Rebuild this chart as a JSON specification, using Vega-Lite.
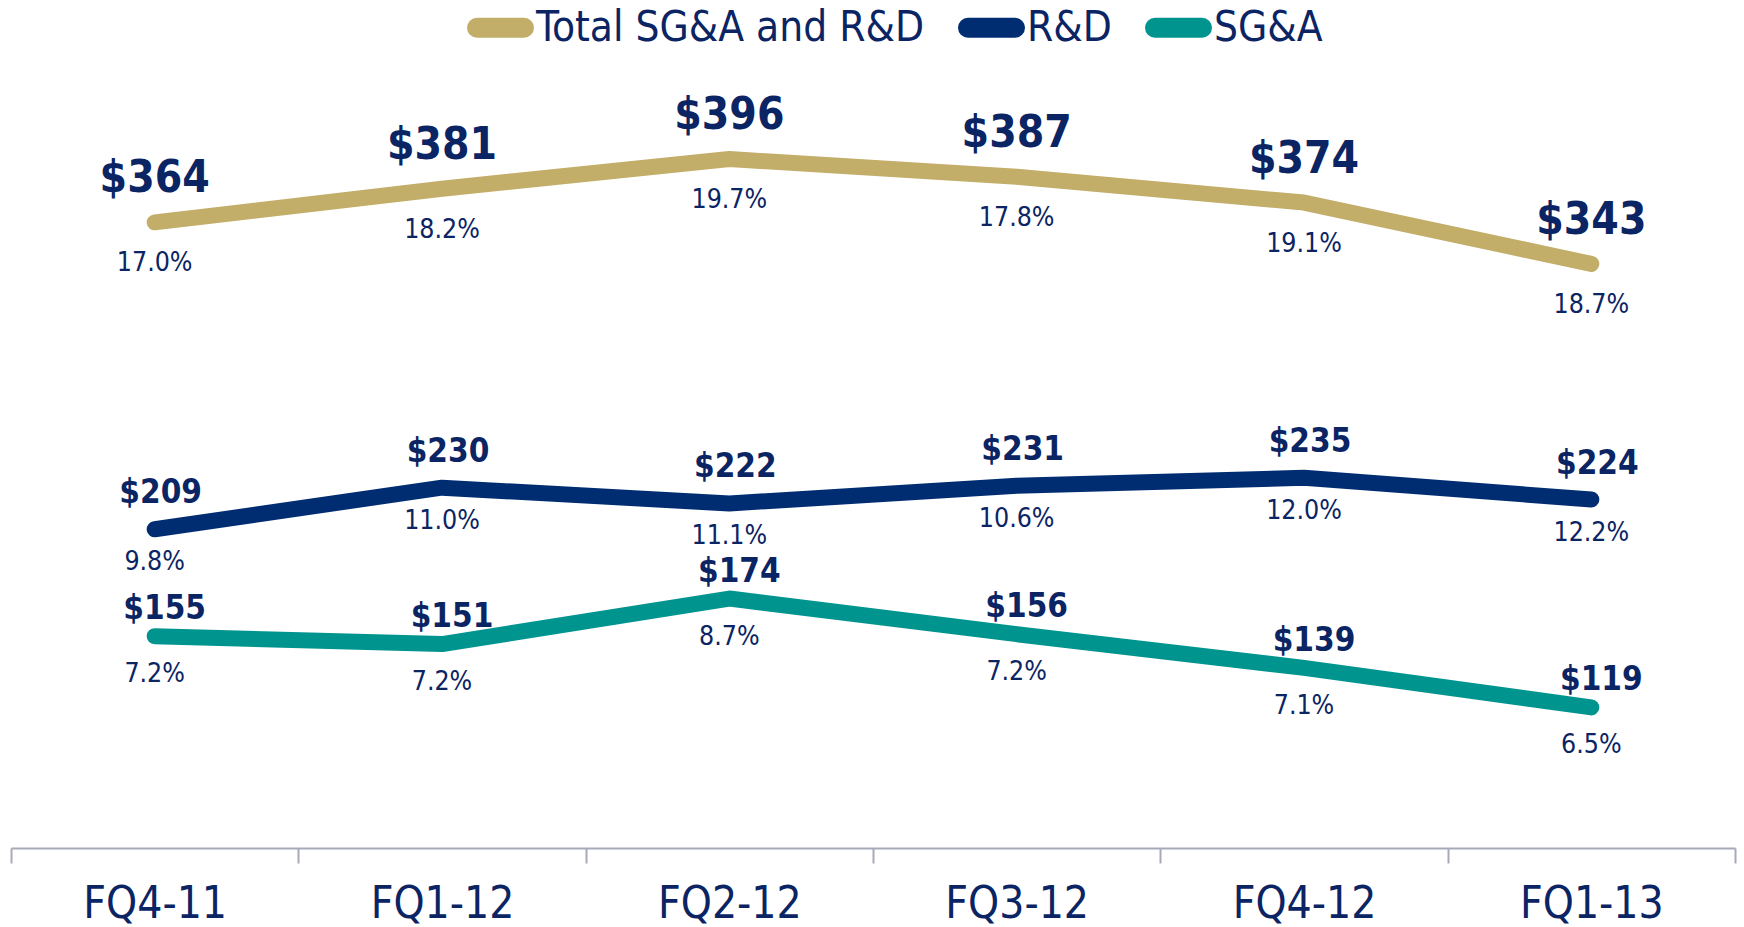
{
  "$schema": "https://vega.github.io/schema/vega-lite/v6.json",
  "width": 1724,
  "height": 788,
  "autosize": {"type": "none"},
  "padding": {"left": 11, "top": 60, "right": 9, "bottom": 79},
  "background": "white",
  "config": {"view": {"stroke": null}},
  "data": {"values": [
    {"quarter": "FQ4-11", "series": "Total SG&A and R&D", "value": 364, "pct": 0.170},
    {"quarter": "FQ1-12", "series": "Total SG&A and R&D", "value": 381, "pct": 0.182},
    {"quarter": "FQ2-12", "series": "Total SG&A and R&D", "value": 396, "pct": 0.197},
    {"quarter": "FQ3-12", "series": "Total SG&A and R&D", "value": 387, "pct": 0.178},
    {"quarter": "FQ4-12", "series": "Total SG&A and R&D", "value": 374, "pct": 0.191},
    {"quarter": "FQ1-13", "series": "Total SG&A and R&D", "value": 343, "pct": 0.187},
    {"quarter": "FQ4-11", "series": "R&D", "value": 209, "pct": 0.098},
    {"quarter": "FQ1-12", "series": "R&D", "value": 230, "pct": 0.110},
    {"quarter": "FQ2-12", "series": "R&D", "value": 222, "pct": 0.111},
    {"quarter": "FQ3-12", "series": "R&D", "value": 231, "pct": 0.106},
    {"quarter": "FQ4-12", "series": "R&D", "value": 235, "pct": 0.120},
    {"quarter": "FQ1-13", "series": "R&D", "value": 224, "pct": 0.122},
    {"quarter": "FQ4-11", "series": "SG&A", "value": 155, "pct": 0.072},
    {"quarter": "FQ1-12", "series": "SG&A", "value": 151, "pct": 0.072},
    {"quarter": "FQ2-12", "series": "SG&A", "value": 174, "pct": 0.087},
    {"quarter": "FQ3-12", "series": "SG&A", "value": 156, "pct": 0.072},
    {"quarter": "FQ4-12", "series": "SG&A", "value": 139, "pct": 0.071},
    {"quarter": "FQ1-13", "series": "SG&A", "value": 119, "pct": 0.065}
  ]},
  "encoding": {
    "x": {
      "field": "quarter", "type": "nominal", "sort": null,
      "scale": {"type": "band", "paddingInner": 0, "paddingOuter": 0},
      "axis": {
        "title": null, "orient": "bottom", "labelAngle": 0,
        "tickBand": "extent", "tickSize": 15, "tickColor": "#A6A9B8", "tickWidth": 2,
        "domainColor": "#A6A9B8", "domainWidth": 2,
        "labelFont": "DejaVu Sans Condensed",
        "labelFontSize": 44, "labelColor": "#0B2463", "labelBaseline": "alphabetic",
        "labelPadding": 54, "grid": false, "labelLimit": 0
      }
    },
    "y": {
      "field": "value", "type": "quantitative",
      "scale": {"domain": [48, 446], "nice": false, "zero": false},
      "axis": null
    }
  },
  "layer": [
    {
      "mark": {"type": "line", "strokeWidth": 16, "strokeCap": "round", "strokeJoin": "round"},
      "encoding": {
        "color": {
          "field": "series", "type": "nominal",
          "scale": {"domain": ["Total SG&A and R&D", "R&D", "SG&A"], "range": ["#C2AD69", "#002D72", "#00948F"]},
          "legend": {
            "orient": "none", "direction": "horizontal", "title": null,
            "legendX": 456, "legendY": -66,
            "symbolType": "stroke", "symbolSize": 2209, "symbolStrokeWidth": 20,
            "labelFont": "DejaVu Sans Condensed",
            "labelFontSize": 42, "labelColor": "#0B2463", "labelLimit": 0,
            "labelOffset": 2, "columnPadding": 3,
            "encode": {"symbols": {"update": {"strokeCap": {"value": "round"}}}}
          }
        }
      }
    },
    {
      "transform": [{"filter": "datum.series === 'Total SG&A and R&D'"}],
      "mark": {"type": "text", "dy": -43, "fontSize": 44, "fontWeight": "bold", "font": "DejaVu Sans Condensed", "color": "#0B2463", "baseline": "middle"},
      "encoding": {"text": {"field": "value", "type": "quantitative", "format": "$.0f"}}
    },
    {
      "transform": [{"filter": "datum.series === 'R&D'"}],
      "mark": {"type": "text", "dy": -36, "dx": 6, "fontSize": 33, "fontWeight": "bold", "font": "DejaVu Sans Condensed", "color": "#0B2463", "baseline": "middle"},
      "encoding": {"text": {"field": "value", "type": "quantitative", "format": "$.0f"}}
    },
    {
      "transform": [{"filter": "datum.series === 'SG&A'"}],
      "mark": {"type": "text", "dy": -27, "dx": 10, "fontSize": 33, "fontWeight": "bold", "font": "DejaVu Sans Condensed", "color": "#0B2463", "baseline": "middle"},
      "encoding": {"text": {"field": "value", "type": "quantitative", "format": "$.0f"}}
    },
    {
      "transform": [{"filter": "datum.series === 'Total SG&A and R&D'"}],
      "mark": {"type": "text", "dy": 41, "fontSize": 26.5, "font": "DejaVu Sans Condensed", "color": "#0B2463", "baseline": "middle"},
      "encoding": {"text": {"field": "pct", "type": "quantitative", "format": ".1%"}}
    },
    {
      "transform": [{"filter": "datum.series === 'R&D'"}],
      "mark": {"type": "text", "dy": 33, "fontSize": 26.5, "font": "DejaVu Sans Condensed", "color": "#0B2463", "baseline": "middle"},
      "encoding": {"text": {"field": "pct", "type": "quantitative", "format": ".1%"}}
    },
    {
      "transform": [{"filter": "datum.series === 'SG&A'"}],
      "mark": {"type": "text", "dy": 38, "fontSize": 26.5, "font": "DejaVu Sans Condensed", "color": "#0B2463", "baseline": "middle"},
      "encoding": {"text": {"field": "pct", "type": "quantitative", "format": ".1%"}}
    }
  ]
}
